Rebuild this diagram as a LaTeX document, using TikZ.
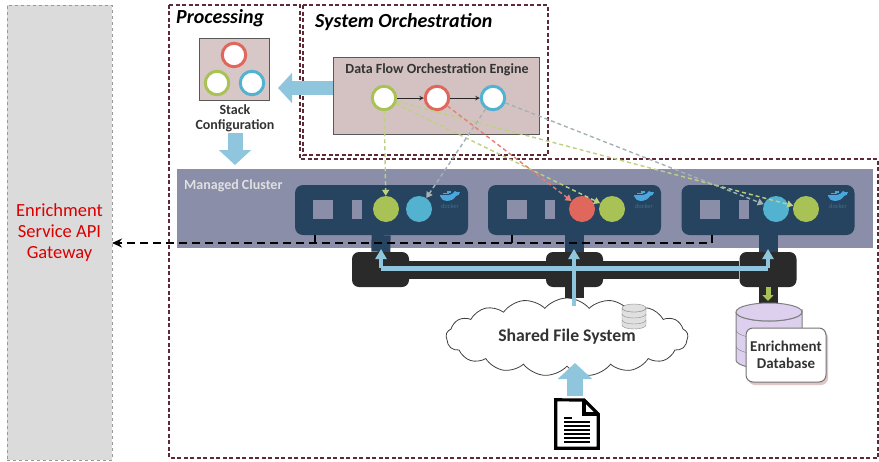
\documentclass[tikz,border=0pt]{standalone}
\usepackage{fontspec}
\setmainfont{Carlito}
\usepackage{tikz}
\usetikzlibrary{arrows.meta}
\usetikzlibrary{shapes.symbols}
\usetikzlibrary{shadows}
\definecolor{zoneline}{HTML}{5E2A36}
\definecolor{skyarrow}{HTML}{8FC6DE}
\definecolor{clusterfill}{HTML}{8A8EA8}
\definecolor{hostfill}{HTML}{26445F}
\definecolor{switchfill}{HTML}{2B2A2A}
\definecolor{svcgreen}{HTML}{A9C256}
\definecolor{svcblue}{HTML}{52B2D0}
\definecolor{svcred}{HTML}{E0675C}
\definecolor{whaleblue}{HTML}{4BA6DE}
\definecolor{dbfill}{HTML}{DDD0EE}
\tikzset{
	zone/.style={draw=zoneline, line width=1.3pt, dash pattern=on 4pt off 2.5pt},
	panel/.style={rectangle, draw=black!65, line width=1pt, fill=#1},
	ring/.style={circle, draw=#1, line width=3pt, fill=white, minimum size=23.5pt},
	svc/.style={circle, fill=#1, minimum size=26pt},
	host/.style={rectangle, rounded corners=8pt, fill=hostfill, minimum width=173pt, minimum height=50pt},
	slot/.style={rectangle, fill=clusterfill, minimum width=#1, minimum height=19pt},
	switch/.style={rectangle, rounded corners=7pt, fill=switchfill, minimum width=57pt, minimum height=35pt},
	bigarrow/.style={draw=skyarrow, line width=#1, -{Triangle[width=2.1*#1, length=1.0*#1]}},
	place/.style={dash pattern=on 4pt off 3pt, line width=1.4pt, draw=#1, -{Triangle[length=6pt, width=7pt]}},
	whale/.pic={
		\fill[whaleblue] (-10,0) .. controls (-9,6) and (2,7) .. (6,0) .. controls (8,0) and (10,-2) .. (10,-4) .. controls (8,-3) and (6,-4) .. (5,-5) .. controls (3,-3) and (2,-1) .. (-1,-1) -- (-10,-1) -- cycle;
		\fill[whaleblue] (-7,-3) rectangle (-1,-2);
		\fill[whaleblue] (-3,-5) rectangle (1,-3);
		\node[font=\fontsize{6.5}{7}\selectfont, text=svcblue!40!hostfill] (-tag) at (0,10) {docker};
	}
}
\begin{document}
\begin{tikzpicture}[>=stealth, x=1pt, y=-1pt, every node/.style={inner sep=0pt, align=center, font=\bfseries\fontsize{14}{16}\selectfont, text=black!80}]
	\useasboundingbox (0,0) rectangle (879,461);
	\fill[white] (0,0) rectangle (879,461);
	%Gateway
	\node [rectangle, draw=black!40, dashed, fill=black!14, minimum width=105pt, minimum height=455pt, font=\fontsize{18.5}{21}\selectfont, text=red!85!black] (gateway) at (59.5,232.5) {Enrichment\\Service API\\Gateway};
	%Zones
	\draw[zone] (169,5) -- (300,5) -- (300,159) -- (878,159) -- (878,458) -- (169,458) -- cycle;
	\draw[zone] (303,5) rectangle (548,155);
	\node [font=\bfseries\itshape\fontsize{20}{22}\selectfont, text=black, anchor=west] (proclabel) at (176,18) {Processing};
	\node [font=\bfseries\itshape\fontsize{20}{22}\selectfont, text=black, anchor=west] (orchlabel) at (315,22) {System Orchestration};
	%Stack
	\node [panel=red!30!black!22, minimum width=70pt, minimum height=62pt] (stack) at (234,69) {};
	\node [ring=svcred] (stackr) at (234,55) {};
	\node [ring=svcgreen] (stackg) at (217,83) {};
	\node [ring=svcblue] (stackb) at (252,83) {};
	\node [font=\bfseries\fontsize{14}{15}\selectfont] (stacklabel) at (235,118) {Stack\\Configuration};
	%Engine
	\node [panel=red!30!black!24, minimum width=206pt, minimum height=77pt] (engine) at (436,95.5) {};
	\node (enginelabel) at (437,70) {Data Flow Orchestration Engine};
	\node [ring=svcgreen] (ringg) at (384,98) {};
	\node [ring=svcred] (ringr) at (437,98) {};
	\node [ring=svcblue] (ringb) at (493,98) {};
	\draw[->, line width=1pt, black!85] (ringg) -- (ringr);
	\draw[->, line width=1pt, black!85] (ringr) -- (ringb);
	%Cluster
	\node [rectangle, fill=clusterfill, minimum width=696pt, minimum height=79pt] (cluster) at (525,208.5) {};
	\node [font=\bfseries\fontsize{14}{16}\selectfont, text=white!88!black, anchor=west] (clusterlabel) at (184,186) {Managed Cluster};
	\draw[bigarrow=14pt] (engine.west |- 0,88) -- (278,88);
	\draw[bigarrow=15pt] (235,133) -- (235,165);
	%Hosts
	\node [host] (host1) at (381.5,210) {};
	\node [host] (host2) at (574.5,210) {};
	\node [host] (host3) at (768,210) {};
	\node [slot=20pt] (sqa) at (323,209.5) {};
	\node [slot=10pt] (sla) at (357,209.5) {};
	\node [slot=20pt] (sqb) at (516.5,209.5) {};
	\node [slot=10pt] (slb) at (550,209.5) {};
	\node [slot=20pt] (sqc) at (710,209.5) {};
	\node [slot=10pt] (slc) at (744,209.5) {};
	\node [svc=svcgreen] (greena) at (386,209) {};
	\node [svc=svcblue] (bluea) at (419,209) {};
	\node [svc=svcred] (redb) at (582,209) {};
	\node [svc=svcgreen] (greenb) at (612,209) {};
	\node [svc=svcblue] (bluec) at (776,209) {};
	\node [svc=svcgreen] (greenc) at (806,209) {};
	\pic (whalea) at (450,196) {whale};
	\pic (whaleb) at (644,196) {whale};
	\pic (whalec) at (838,196) {whale};
	%Switches
	\node [switch] (switch1) at (380.5,269.5) {};
	\node [switch] (switch2) at (574.5,269.5) {};
	\node [switch] (switch3) at (768,269.5) {};
	\draw[line width=18pt, switchfill] (switch1) -- (switch3);
	\draw[line width=19pt, hostfill] (host1) -- (switch1);
	\draw[line width=19pt, hostfill] (host2) -- (switch2);
	\draw[line width=19pt, hostfill] (host3) -- (switch3);
	%Shared storage
	\node [cloud, cloud puffs=17, cloud puff arc=100, aspect=3, draw=black!75, line width=0.8pt, fill=white, minimum width=242pt, minimum height=78pt] (shared) at (567,337) {};
	\draw[line width=19pt, switchfill] (switch2) -- (574.5,298);
	\node [font=\bfseries\fontsize{17.7}{20}\selectfont] (sharedlabel) at (567,337) {Shared File System};
	%Small drum
	\draw[black!45, fill=black!12] (622,308) -- (622,325) arc (180:0:12 and 4) -- (646,308) arc (0:180:12 and 4);
	\draw[black!45, fill=black!12] (634,308) ellipse (12 and 4);
	\draw[black!45] (622,314) arc (180:0:12 and 4);
	\draw[black!45] (622,320) arc (180:0:12 and 4);
	%Enrichment database
	\draw[line width=19pt, switchfill] (switch3) -- (768,308);
	\draw[black!50, fill=dbfill, line width=1pt] (736,312) -- (736,360) arc (180:0:33 and 9) -- (802,312) arc (0:180:33 and 9);
	\draw[black!50, fill=dbfill, line width=1pt] (769,312) ellipse (33 and 9);
	\draw[black!50] (736,330) arc (180:0:33 and 9);
	\draw[black!50] (736,346) arc (180:0:33 and 9);
	\node [rectangle, rounded corners=7pt, draw=black!55, line width=1pt, fill=white, minimum width=80pt, minimum height=54pt, font=\bfseries\fontsize{15}{16.5}\selectfont, drop shadow={fill=red!50!black!45, shadow xshift=2pt, shadow yshift=-3pt}] (dblabel) at (786,355) {Enrichment\\Database};
	\draw[draw=svcgreen, line width=5pt, -{Triangle[width=11pt, length=6pt]}] (switch3.south) -- (768,301);
	%File
	\node [minimum width=42pt, minimum height=48pt] (file) at (577,424) {};
	\draw[line width=3.2pt, fill=white, line join=miter] (file.south west) -- (file.north west) -- (584,400) -- (file.east |- 0,414) -- (file.south east) -- cycle;
	\draw[line width=3.2pt] (584,400) -- (584,414) -- (file.east |- 0,414);
	\draw[line width=1.2pt] (564,418) -- (572,418);
	\foreach \ypos in {422,426,430,434,438,442} \draw[line width=1.6pt] (564,\ypos) -- (590,\ypos);
	\draw[bigarrow=16pt] (575,396) -- (575,363);
	%Data lines
	\draw[skyarrow, line width=5pt] (381,268) -- (768,268);
	\draw[skyarrow, line width=4pt, -{Triangle[width=11pt, length=10pt]}] (381,268) -- (381,249);
	\draw[skyarrow, line width=4pt, -{Triangle[width=11pt, length=10pt]}] (768,268) -- (768,249);
	\draw[skyarrow, line width=4pt, -{Triangle[width=11pt, length=10pt]}] (574,306) -- (574,249);
	%Placement
	\draw[place=svcgreen!75!white] (ringg) -- (greena);
	\draw[place=svcgreen!75!white] (ringg) -- (greenb);
	\draw[place=svcgreen!75!white] (ringg) -- (greenc);
	\draw[place=svcred!85!white] (ringr) -- (redb);
	\draw[place=svcblue!35!black!40] (ringb) -- (bluea);
	\draw[place=svcblue!35!black!40] (ringb) -- (bluec);
	%API line
	\coordinate (apiend) at (112,243);
	\coordinate (tick1) at (315,235);
	\coordinate (tick2) at (512,235);
	\coordinate (tick3) at (712,235);
	\draw[line width=1.6pt, dash pattern=on 8pt off 5pt, ->, >={Stealth[length=10pt, width=9pt]}] (tick3) |- (apiend);
	\draw[line width=1.6pt] (tick1) -- (tick1 |- apiend);
	\draw[line width=1.6pt] (tick2) -- (tick2 |- apiend);
\end{tikzpicture}
\end{document}
